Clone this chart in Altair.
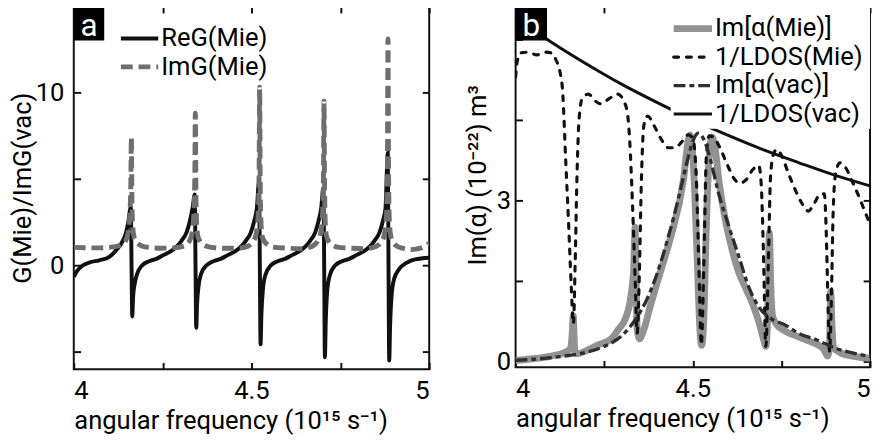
import altair as alt
import pandas as pd

FONT = "Roboto"
BLACK = "#111111"

# ---------------- text ----------------
x_title = "angular frequency (10¹⁵ s⁻¹)"
ya_title = "G(Mie)/ImG(vac)"
yb_title = "Im(α) (10⁻²²) m³"
names_a = ["ReG(Mie)", "ImG(Mie)"]
names_b = ["Im[α(Mie)]", "1/LDOS(Mie)", "Im[α(vac)]", "1/LDOS(vac)"]

x_ticks = [4, 4.25, 4.5, 4.75, 5]
ya_ticks = [-5, 0, 5, 10]
yb_ticks = [0, 1.5, 3, 4.5, 6]

# ---------------- panel a: ReG(Mie) ----------------
reg_x = [4.000, 4.010, 4.025, 4.045, 4.072, 4.100, 4.122, 4.137, 4.147, 4.154, 4.158, 4.1605,
         4.1625, 4.1645, 4.167, 4.171, 4.178, 4.192, 4.212, 4.232, 4.252, 4.282, 4.302, 4.317,
         4.327, 4.334, 4.3405, 4.3425, 4.3445, 4.347, 4.351, 4.358, 4.373, 4.393, 4.413, 4.433,
         4.463, 4.483, 4.498, 4.508, 4.515, 4.5215, 4.5235, 4.5255, 4.528, 4.532, 4.539, 4.554,
         4.574, 4.594, 4.614, 4.644, 4.664, 4.679, 4.689, 4.696, 4.7025, 4.7045, 4.7065, 4.709,
         4.713, 4.720, 4.735, 4.755, 4.775, 4.795, 4.825, 4.845, 4.860, 4.870, 4.877, 4.8835,
         4.8855, 4.8875, 4.890, 4.894, 4.901, 4.916, 4.936, 4.960, 5.000]
reg_y = [-0.65, -0.30, 0.00, 0.18, 0.30, 0.50, 0.95, 1.40, 1.90, 2.60, 3.20, 3.40,
         0.00, -2.95, -1.80, -1.10, -0.50, 0.00, 0.25, 0.38, 0.60, 0.95, 1.40, 1.90,
         2.60, 3.30, 4.10, 0.00, -3.60, -2.20, -1.20, -0.50, 0.00, 0.25, 0.38, 0.60,
         0.95, 1.40, 1.90, 2.60, 3.30, 4.90, 0.00, -4.55, -2.80, -1.40, -0.55, 0.00,
         0.25, 0.38, 0.60, 0.95, 1.40, 1.90, 2.60, 3.30, 4.50, 0.00, -5.30, -3.20,
         -1.50, -0.60, 0.00, 0.25, 0.38, 0.60, 0.95, 1.40, 1.90, 2.60, 3.30, 6.50,
         0.00, -5.50, -3.50, -1.80, -0.80, -0.20, 0.15, 0.35, 0.45]

# ---------------- panel a: ImG(Mie) ----------------
img_x = [4.000, 4.060, 4.100, 4.130, 4.145, 4.153, 4.158, 4.1605, 4.162, 4.1635, 4.1655, 4.169,
         4.175, 4.185, 4.200, 4.240, 4.280, 4.310, 4.325, 4.333, 4.338, 4.3405, 4.342, 4.3435,
         4.3455, 4.349, 4.355, 4.365, 4.380, 4.420, 4.460, 4.490, 4.505, 4.514, 4.519, 4.5215,
         4.523, 4.5245, 4.5265, 4.530, 4.536, 4.546, 4.561, 4.600, 4.640, 4.670, 4.686, 4.695,
         4.700, 4.7025, 4.704, 4.7055, 4.7075, 4.711, 4.717, 4.727, 4.742, 4.780, 4.820, 4.850,
         4.866, 4.875, 4.880, 4.8825, 4.884, 4.8855, 4.8875, 4.891, 4.897, 4.907, 4.925, 4.950,
         4.975, 5.000]
img_y = [1.05, 1.02, 1.05, 1.15, 1.40, 1.90, 3.00, 4.80, 7.40, 4.00, 2.40, 1.70,
         1.40, 1.20, 1.08, 1.00, 1.02, 1.12, 1.40, 1.90, 3.00, 5.00, 8.80, 4.50,
         2.50, 1.70, 1.40, 1.20, 1.08, 1.00, 1.00, 1.12, 1.40, 1.90, 3.00, 5.50,
         10.30, 5.00, 2.60, 1.70, 1.40, 1.20, 1.06, 1.00, 0.97, 1.10, 1.40, 1.90,
         3.00, 5.20, 9.50, 4.80, 2.50, 1.70, 1.40, 1.20, 1.06, 1.00, 0.97, 1.10,
         1.40, 1.90, 3.00, 6.00, 13.10, 6.00, 2.80, 1.80, 1.40, 1.15, 1.00, 0.92,
         1.00, 1.28]

# ---------------- panel b: Im[alpha(Mie)] ----------------
ima_mie_x = [4.000, 4.050, 4.100, 4.140, 4.155, 4.160, 4.1625, 4.165, 4.168, 4.175, 4.200, 4.230,
             4.270, 4.290, 4.310, 4.325, 4.333, 4.337, 4.340, 4.343, 4.350, 4.358, 4.382, 4.410,
             4.437, 4.474, 4.488, 4.492, 4.498, 4.505, 4.513, 4.520, 4.525, 4.531, 4.538, 4.546,
             4.554, 4.562, 4.575, 4.590, 4.610, 4.630, 4.650, 4.670, 4.690, 4.700, 4.706, 4.711,
             4.716, 4.720, 4.725, 4.735, 4.756, 4.790, 4.820, 4.850, 4.870, 4.880, 4.8855, 4.889,
             4.893, 4.898, 4.920, 4.950, 5.000]
ima_mie_y = [0.02, 0.05, 0.10, 0.17, 0.25, 0.55, 0.85, 0.45, 0.15, 0.14, 0.20, 0.30,
             0.42, 0.60, 0.80, 1.20, 1.70, 2.50, 1.50, 0.60, 0.42, 0.52, 1.08, 1.70,
             2.30, 3.40, 4.15, 4.22, 4.00, 3.20, 1.80, 0.60, 0.30, 0.80, 2.50, 3.80,
             4.18, 4.00, 3.30, 2.70, 2.10, 1.65, 1.35, 1.05, 0.65, 0.40, 0.28, 0.80,
             2.40, 1.40, 0.85, 0.70, 0.58, 0.48, 0.40, 0.32, 0.22, 0.10, 0.25, 1.30,
             0.60, 0.25, 0.15, 0.10, 0.06]

# ---------------- panel b: 1/LDOS(Mie) ----------------
ldos_mie_x = [4.000, 4.005, 4.015, 4.035, 4.060, 4.085, 4.103, 4.115, 4.125, 4.133, 4.141, 4.150,
              4.157, 4.163, 4.168, 4.173, 4.179, 4.188, 4.205, 4.225, 4.240, 4.265, 4.288, 4.305,
              4.315, 4.322, 4.330, 4.337, 4.343, 4.349, 4.355, 4.362, 4.373, 4.390, 4.410, 4.430,
              4.450, 4.470, 4.487, 4.500, 4.510, 4.517, 4.524, 4.531, 4.538, 4.546, 4.558, 4.575,
              4.595, 4.615, 4.632, 4.650, 4.670, 4.686, 4.693, 4.699, 4.706, 4.713, 4.719, 4.727,
              4.737, 4.750, 4.770, 4.790, 4.810, 4.826, 4.843, 4.860, 4.871, 4.876, 4.881, 4.886,
              4.891, 4.896, 4.903, 4.915, 4.930, 4.950, 4.970, 4.985, 5.000]
ldos_mie_y = [5.30, 5.60, 5.75, 5.76, 5.71, 5.76, 5.74, 5.60, 5.40, 5.00, 3.80, 2.50,
              1.40, 0.70, 1.80, 3.40, 4.50, 4.90, 4.98, 4.85, 4.80, 4.90, 4.98, 4.85,
              4.65, 4.10, 2.90, 1.60, 0.53, 1.60, 3.40, 4.40, 4.57, 4.40, 4.15, 3.98,
              3.98, 4.10, 4.22, 4.15, 3.40, 1.80, 0.31, 1.80, 3.80, 4.20, 4.18, 4.00,
              3.70, 3.42, 3.32, 3.38, 3.58, 3.65, 3.30, 2.10, 0.28, 1.80, 3.40, 3.85,
              3.95, 3.84, 3.50, 3.18, 2.92, 2.80, 2.95, 3.12, 3.12, 2.50, 1.20, 0.18,
              1.20, 2.80, 3.50, 3.70, 3.62, 3.35, 3.05, 2.80, 2.55]

# ---------------- panel b: Im[alpha(vac)] ----------------
ima_vac_x = [4.000, 4.050, 4.100, 4.150, 4.200, 4.250, 4.300, 4.340, 4.370, 4.400, 4.430, 4.460,
             4.485, 4.500, 4.515, 4.530, 4.550, 4.570, 4.600, 4.630, 4.660, 4.690, 4.720, 4.760,
             4.800, 4.850, 4.900, 4.950, 5.000]
ima_vac_y = [0.02, 0.04, 0.07, 0.11, 0.17, 0.28, 0.48, 0.80, 1.15, 1.65, 2.30, 3.05,
             3.75, 4.10, 4.25, 4.15, 3.75, 3.20, 2.55, 1.95, 1.35, 0.98, 0.80, 0.68,
             0.52, 0.40, 0.25, 0.16, 0.09]

# ---------------- panel b: 1/LDOS(vac) ----------------
ldos_vac_x = [4.0, 4.1, 4.2, 4.3, 4.4, 4.5, 4.6, 4.7, 4.8, 4.9, 5.0]
ldos_vac_y = [6.40, 5.95, 5.54, 5.16, 4.82, 4.50, 4.21, 3.94, 3.70, 3.47, 3.27]

# ---------------- styles ----------------
colors_a = [BLACK, "#6e6e6e"]
dashes_a = [None, [12, 6]]
widths_a = [4, 5]
caps_a = ["butt", "butt"]

colors_b = ["#929292", BLACK, "#2e2e2e", BLACK]
dashes_b = [None, [5, 8], [12, 4, 5, 4], None]
widths_b = [7, 3.2, 3.4, 3]
caps_b = ["butt", "round", "butt", "butt"]

NEG_TICK = {"expr": "-7"}
ONE = pd.DataFrame({"k": [0]})


def style(color, dash, width, cap):
    kw = dict(color=color, strokeWidth=width, strokeCap=cap)
    if dash is not None:
        kw["strokeDash"] = dash
    return kw


def line(xs, ys, name, ydom, xaxis, yaxis, color, dash, width, cap):
    df = pd.DataFrame({"w": xs, "v": ys, "series": name})
    return alt.Chart(df).mark_line(interpolate="monotone", clip=True,
                                   **style(color, dash, width, cap)).encode(
        x=alt.X("w:Q", scale=alt.Scale(domain=[4, 5], nice=False, zero=False), axis=xaxis),
        y=alt.Y("v:Q", scale=alt.Scale(domain=ydom, nice=False, zero=False), axis=yaxis),
        detail="series:N",
    )


def main_x():
    return alt.Axis(orient="bottom", values=x_ticks, labelFlush=True, tickSize=NEG_TICK,
                    labelExpr="datum.value == 4 || datum.value == 4.5 || datum.value == 5 ? datum.value + '' : ''",
                    labelPadding=16, title=x_title, titleAnchor="start", titleAlign="left",
                    titlePadding=4)


def top_x():
    return alt.Axis(orient="top", values=x_ticks, labels=False, tickSize=NEG_TICK, title=None)


def right_y(vals):
    return alt.Axis(orient="right", values=vals, labels=False, tickSize=NEG_TICK, title=None)


def badge(letter, w, h):
    rect = alt.Chart(ONE).mark_rect(color="black").encode(
        x=alt.value(0), x2=alt.value(w), y=alt.value(0), y2=alt.value(h))
    txt = alt.Chart(ONE).mark_text(color="white", fontSize=32, font=FONT, align="center",
                                   baseline="alphabetic").encode(
        x=alt.value(w / 2), y=alt.value(h - 4), text=alt.value(letter))
    return [rect, txt]


def key(names, colors, dashes, widths, caps, x0, x1, rows, box=None):
    out = []
    if box is not None:
        out.append(alt.Chart(ONE).mark_rect(color="white").encode(
            x=alt.value(box[0]), x2=alt.value(box[1]), y=alt.value(box[2]), y2=alt.value(box[3])))
    for name, c, d, w, cp, yy in zip(names, colors, dashes, widths, caps, rows):
        out.append(alt.Chart(ONE).mark_rule(**style(c, d, w, cp)).encode(
            x=alt.value(x0), x2=alt.value(x1), y=alt.value(yy)))
        out.append(alt.Chart(ONE).mark_text(align="left", baseline="middle", fontSize=26,
                                            font=FONT, color="black").encode(
            x=alt.value(x1 + 3), y=alt.value(yy), text=alt.value(name)))
    return out


# ---------------- panel a ----------------
ydom_a = [-6, 15]
ya_main = alt.Axis(orient="left", values=ya_ticks, tickSize=NEG_TICK,
                   labelExpr="datum.value == 0 || datum.value == 10 ? datum.value + '' : ''",
                   labelPadding=17, title=ya_title, titlePadding=0)

la1 = line(reg_x, reg_y, names_a[0], ydom_a, main_x(), ya_main,
           colors_a[0], dashes_a[0], widths_a[0], caps_a[0])
la2 = line(img_x, img_y, names_a[1], ydom_a, top_x(), right_y(ya_ticks),
           colors_a[1], dashes_a[1], widths_a[1], caps_a[1])
panel_a = alt.layer(
    la1, la2, *key(names_a, colors_a, dashes_a, widths_a, caps_a, 48, 86, [33, 62]),
    *badge("a", 31, 35)
).resolve_axis(x="independent", y="independent").properties(width=362, height=370)

# ---------------- panel b ----------------
ydom_b = [-0.11, 6.62]
yb_main = alt.Axis(orient="left", values=yb_ticks, tickSize=NEG_TICK,
                   labelExpr="datum.value == 0 || datum.value == 3 ? datum.value + '' : ''",
                   labelPadding=12, title=yb_title, titlePadding=6, titleY=172)
lb1 = line(ima_mie_x, ima_mie_y, names_b[0], ydom_b, main_x(), yb_main,
           colors_b[0], dashes_b[0], widths_b[0], caps_b[0])
lb2 = line(ldos_mie_x, ldos_mie_y, names_b[1], ydom_b, top_x(), right_y(yb_ticks),
           colors_b[1], dashes_b[1], widths_b[1], caps_b[1])
lb3 = line(ima_vac_x, ima_vac_y, names_b[2], ydom_b, None, None,
           colors_b[2], dashes_b[2], widths_b[2], caps_b[2])
lb4 = line(ldos_vac_x, ldos_vac_y, names_b[3], ydom_b, None, None,
           colors_b[3], dashes_b[3], widths_b[3], caps_b[3])
panel_b = alt.layer(
    lb1, lb2, lb3, lb4,
    *key(names_b, colors_b, dashes_b, widths_b, caps_b, 161, 200, [23, 52, 81, 110],
         box=(158, 361, 2, 125)),
    *badge("b", 32, 35)
).resolve_axis(x="independent", y="independent").properties(width=361, height=368)

chart = alt.hconcat(panel_a, panel_b, spacing=33).properties(
    padding={"left": 0, "top": -8, "right": 0, "bottom": 0}
).configure(font=FONT).configure_view(
    stroke=BLACK, strokeWidth=2
).configure_axis(
    labelFontSize=26, titleFontSize=26, titleFontWeight="normal", labelColor="black",
    titleColor="black", tickColor=BLACK, tickWidth=2, grid=False, domain=False,
    labelFont=FONT, titleFont=FONT
)

chart.save("out.html", embed_options={"renderer": "svg", "actions": False})
